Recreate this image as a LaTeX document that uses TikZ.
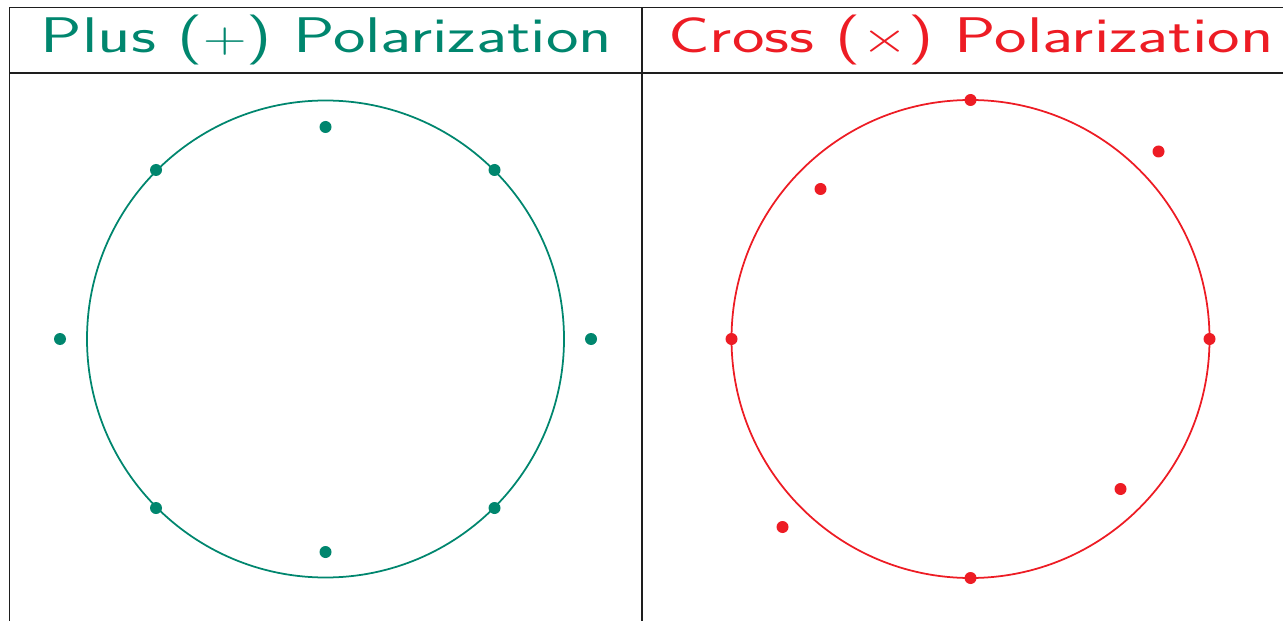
\documentclass[tikz,border=0pt]{standalone}
\usepackage{amsmath}
\usepackage{graphicx}
\definecolor{plusgreen}{RGB}{0,134,110}
\definecolor{crossred}{RGB}{237,28,36}
\definecolor{framegray}{RGB}{30,30,30}
\newcommand{\widetitle}[1]{\scalebox{1.38}[1]{\sffamily\fontsize{28.5}{30}\selectfont #1}}
\tikzset{
  frameline/.style={draw=framegray, line width=1.1pt},
  ring/.style={line width=1pt},
  dotmark/.style={circle, fill, inner sep=0pt, minimum size=12*0.02cm},
  titletext/.style={anchor=base, inner sep=0pt}
}
\begin{document}
\begin{tikzpicture}[x=0.02cm, y=-0.02cm]
\useasboundingbox (0,0) rectangle (1283,621);
% frame
\draw[frameline] (9.5,7.5) -- (1290,7.5);
\draw[frameline] (9.5,73) -- (1290,73);
\draw[frameline] (9.5,7.5) -- (9.5,630);
\draw[frameline] (642,7.5) -- (642,630);
% titles
\node[titletext, text=plusgreen] (tplus) at (326.5,53) {\widetitle{Plus ($+$) Polarization}};
\node[titletext, text=crossred] (tcross) at (971,53) {\widetitle{Cross ($\times$) Polarization}};
% plus panel
\coordinate (cp) at (325.5,339);
\draw[ring, plusgreen] (cp) circle[radius=238.5];
\begin{scope}[plusgreen]
\node[dotmark] (p1) at (325.5,127) {};
\node[dotmark] (p2) at (156,170) {};
\node[dotmark] (p3) at (494.5,170) {};
\node[dotmark] (p4) at (60,339) {};
\node[dotmark] (p5) at (591,339) {};
\node[dotmark] (p6) at (156,508) {};
\node[dotmark] (p7) at (494.5,508) {};
\node[dotmark] (p8) at (325.5,552) {};
\end{scope}
% cross panel
\coordinate (cc) at (970.5,339);
\draw[ring, crossred] (cc) circle[radius=239];
\begin{scope}[crossred]
\node[dotmark] (c1) at (970.5,100) {};
\node[dotmark] (c2) at (1158.5,151.5) {};
\node[dotmark] (c3) at (820.5,189) {};
\node[dotmark] (c4) at (731.5,339) {};
\node[dotmark] (c5) at (1209.5,339) {};
\node[dotmark] (c6) at (1120.5,489) {};
\node[dotmark] (c7) at (782.5,527) {};
\node[dotmark] (c8) at (970.5,578) {};
\end{scope}
\end{tikzpicture}
\end{document}
